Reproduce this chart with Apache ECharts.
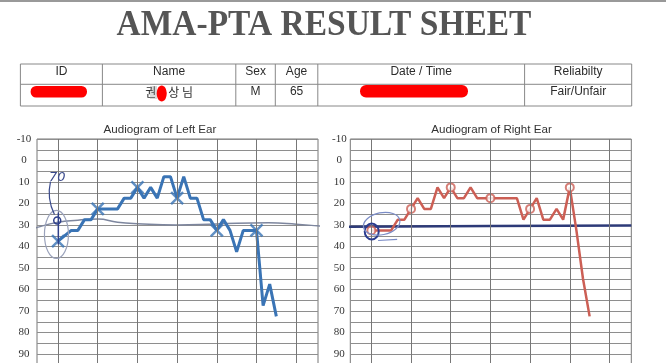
<!DOCTYPE html>
<html><head><meta charset="utf-8">
<script src="https://cdn.jsdelivr.net/npm/echarts@6/dist/echarts.min.js"></script>
<style>html,body{margin:0;padding:0;background:#fff}#c{width:666px;height:363px}</style>
</head><body><div id="c"></div>
<script>
// ---- data (x = octaves above 250 Hz, y = hearing level dB) ----
const leftOctave = [0, 0.333, 0.5, 0.667, 0.833, 1, 1.5, 1.667, 1.833, 2, 2.167, 2.333, 2.5, 2.667, 2.833, 3, 3.167, 3.333, 3.5, 3.667, 3.833, 4, 4.167, 4.333, 4.5, 4.667, 4.833, 5, 5.167, 5.333, 5.5];
const leftDb     = [37.5, 32.5, 32.5, 27.5, 27.5, 22.5, 22.5, 17.5, 17.5, 12.5, 17.5, 12.5, 17.5, 7.5, 7.5, 17.5, 7.5, 17.5, 17.5, 27.5, 27.5, 32.5, 27.5, 32.5, 42.5, 32.5, 32.5, 32.5, 67.5, 57.5, 72.5];
const rightOctave = [0, 0.5, 0.667, 0.833, 1, 1.167, 1.333, 1.5, 1.667, 1.833, 2, 2.167, 2.333, 2.5, 2.667, 3, 3.667, 3.833, 4, 4.167, 4.333, 4.5, 4.667, 4.833, 5, 5.167, 5.333, 5.5];
const rightDb     = [32.5, 32.5, 27.5, 27.5, 22.5, 17.5, 22.5, 22.5, 12.5, 17.5, 12.5, 17.5, 17.5, 12.5, 17.5, 17.5, 17.5, 27.5, 22.5, 17.5, 27.5, 27.5, 22.5, 27.5, 12.5, 32.5, 55, 72.5];
const markerOctave = [0, 1, 2, 3, 4, 5];
const octaveLines = [0, 1, 2, 3, 4, 5, 6];
const yLabels = [-10, 0, 10, 20, 30, 40, 50, 60, 70, 80, 90];
// hand-drawn reference lines
const leftRefOctave = [-0.78, -0.5, 0, 0.5, 1, 1.5, 2, 3, 4, 5.3, 6, 6.6, 6.94];
const leftRefDb     = [33, 31, 28.7, 27.8, 27.2, 28.7, 29.4, 30, 29.5, 29, 29.6, 30.5, 30.8];
const rightRefOctave = [-0.96, 3, 6.55];
const rightRefDb     = [30.8, 30.5, 30.2];
// texts
const sheetTitle = 'AMA-PTA RESULT SHEET';
const chartTitles = ['Audiogram of Left Ear', 'Audiogram of Right Ear'];
const tableHeaders = ['ID', 'Name', 'Sex', 'Age', 'Date / Time', 'Reliabilty'];
const tableValues  = ['', '권\u3000상 님', 'M', '65', '', 'Fair/Unfair'];

const zip = (a, b) => a.map((v, i) => [v, b[i]]);
const marks = (oct, db) => markerOctave.map(o => [o, db[oct.indexOf(o)]]);

const chart = echarts.init(document.getElementById('c'), null, {renderer: 'canvas'});

function xAxisCfg(gi) { return {gridIndex: gi, type: 'value', min: -0.53, max: 6.55, show: false}; }
function yAxisCfg(gi, margin) {
  return {gridIndex: gi, type: 'value', inverse: true, min: -10, max: 100, interval: 5,
    axisLine: {show: false}, axisTick: {show: false},
    axisLabel: {margin: margin, align: 'center', fontFamily: 'Liberation Serif', fontSize: 11, color: '#333',
      formatter: v => yLabels.includes(v) ? String(v) : ''},
    splitLine: {show: true, lineStyle: {color: '#8e8e8e', width: 1}}};
}
const vLines = {silent: true, symbol: ['none', 'none'], label: {show: false}, animation: false,
  lineStyle: {color: '#777', width: 1, type: 'solid'}, emphasis: {disabled: true},
  data: octaveLines.map(v => ({xAxis: v}))};
const xPath = 'path://M0 0L10 10M10 0L0 10';

chart.setOption({
  animation: false,
  backgroundColor: '#ffffff',
  grid: [
    {left: 37, top: 139, width: 281, height: 236.5, show: true, borderColor: '#777', borderWidth: 1, containLabel: false, outerBoundsMode: 'none'},
    {left: 350.3, top: 139, width: 281, height: 236.5, show: true, borderColor: '#777', borderWidth: 1, containLabel: false, outerBoundsMode: 'none'}
  ],
  xAxis: [xAxisCfg(0), xAxisCfg(1)],
  yAxis: [yAxisCfg(0, 13), yAxisCfg(1, 11)],
  series: [
    {type: 'line', xAxisIndex: 0, yAxisIndex: 0, data: [], markLine: vLines, z: 1},
    {type: 'line', xAxisIndex: 1, yAxisIndex: 1, data: [], markLine: vLines, z: 1},
    {type: 'line', xAxisIndex: 0, yAxisIndex: 0, data: zip(leftRefOctave, leftRefDb), smooth: true, clip: false,
      showSymbol: false, lineStyle: {color: '#7d869e', width: 1.5}, z: 2, silent: true},
    {type: 'line', xAxisIndex: 1, yAxisIndex: 1, data: zip(rightRefOctave, rightRefDb), clip: false,
      showSymbol: false, lineStyle: {color: '#2d3a78', width: 2.5}, z: 2, silent: true},
    {type: 'line', xAxisIndex: 0, yAxisIndex: 0, data: zip(leftOctave, leftDb), showSymbol: false,
      lineStyle: {color: '#3a74b5', width: 3}, z: 3},
    {type: 'line', xAxisIndex: 1, yAxisIndex: 1, data: zip(rightOctave, rightDb), showSymbol: false,
      lineStyle: {color: '#cc5f55', width: 2.5}, z: 3},
    {type: 'scatter', xAxisIndex: 0, yAxisIndex: 0, data: marks(leftOctave, leftDb), symbol: xPath,
      symbolSize: [12, 12], itemStyle: {color: 'none', borderColor: '#3a74b5', borderWidth: 2.5}, z: 4},
    {type: 'scatter', xAxisIndex: 1, yAxisIndex: 1, data: marks(rightOctave, rightDb), symbol: 'circle',
      symbolSize: 8, itemStyle: {color: '#fff', borderColor: '#cc5f55', borderWidth: 2}, z: 4}
  ]
});

// ---- sheet decorations (table, titles, hand annotations) ----
const colX = [20.4, 102.4, 235.8, 275.3, 317.8, 524.6, 631.7];
const rowY = [64, 84.3, 106];
const g = [];
g.push({type: 'line', shape: {x1: 0, y1: 1, x2: 666, y2: 1}, style: {stroke: '#999', lineWidth: 2}});
g.push({type: 'text', x: 324, y: 25.5, scaleX: 0.93,
  style: {text: sheetTitle, x: 0, y: 0, fontFamily: 'Liberation Serif', fontWeight: 'bold', fontSize: 36,
    fill: '#555', align: 'center', verticalAlign: 'middle'}});
g.push({type: 'rect', shape: {x: colX[0], y: rowY[0], width: colX[6] - colX[0], height: rowY[2] - rowY[0]},
  style: {fill: 'none', stroke: '#888', lineWidth: 1}});
g.push({type: 'line', shape: {x1: colX[0], y1: rowY[1], x2: colX[6], y2: rowY[1]}, style: {stroke: '#888', lineWidth: 1}});
for (let i = 1; i < 6; i++) g.push({type: 'line', shape: {x1: colX[i], y1: rowY[0], x2: colX[i], y2: rowY[2]}, style: {stroke: '#888', lineWidth: 1}});
tableHeaders.forEach((t, i) => g.push({type: 'text', x: (colX[i] + colX[i + 1]) / 2, y: 71.8,
  style: {text: t, fontFamily: 'Liberation Sans', fontSize: 12, fill: '#2c2c2c', align: 'center', verticalAlign: 'middle'}}));
tableValues.forEach((t, i) => { if (t) g.push({type: 'text', x: (colX[i] + colX[i + 1]) / 2, y: 92,
  style: {text: t, fontFamily: i === 1 ? 'Noto Sans CJK KR' : 'Liberation Sans', fontSize: 12, fill: '#2c2c2c', align: 'center', verticalAlign: 'middle'}}); });
// redactions
g.push({type: 'rect', shape: {x: 150, y: 86, width: 7, height: 13}, style: {fill: 'rgba(150,150,150,0.35)'}});
g.push({type: 'ellipse', shape: {cx: 161.7, cy: 93.5, rx: 5, ry: 8}, style: {fill: '#f00'}});
g.push({type: 'rect', shape: {x: 30.6, y: 86, width: 56.4, height: 11.5, r: 5.5}, style: {fill: '#f00'}});
g.push({type: 'rect', shape: {x: 360, y: 85, width: 108, height: 12.5, r: 6}, style: {fill: '#f00'}});
// chart titles
chartTitles.forEach((t, i) => g.push({type: 'text', x: i === 0 ? 160 : 491.5, y: 129.5,
  style: {text: t, fontFamily: 'Liberation Sans', fontSize: 11.6, fill: '#333', align: 'center', verticalAlign: 'middle'}}));
// hand annotations placed from data coordinates
const pL = (o, d) => chart.convertToPixel({gridIndex: 0}, [o, d]);
const pR = (o, d) => chart.convertToPixel({gridIndex: 1}, [o, d]);
let c = pL(-0.04, 34.4);
g.push({type: 'ellipse', shape: {cx: c[0], cy: c[1], rx: 12, ry: 24}, style: {fill: 'none', stroke: '#9aa2bb', lineWidth: 1.2}, z: 10});
c = pL(-0.02, 27.9);
g.push({type: 'circle', shape: {cx: c[0], cy: c[1], r: 3.5}, style: {fill: 'none', stroke: '#2e3f8a', lineWidth: 1.5}, z: 10});
let a = pL(0.0075, 24.2), b = pL(0.0075, 39);
g.push({type: 'line', shape: {x1: a[0], y1: a[1], x2: b[0], y2: b[1]}, style: {stroke: '#2e3f8a', lineWidth: 1.5}, z: 10});
a = pL(-0.09, 25.1); b = pL(-0.19, 9.8); let k = pL(-0.29, 17.7);
g.push({type: 'bezierCurve', shape: {x1: a[0], y1: a[1], x2: b[0], y2: b[1], cpx1: k[0], cpy1: k[1]}, style: {stroke: '#3a4a8c', lineWidth: 1.2, fill: 'none'}, z: 10});
c = pL(-0.02, 8.1);
g.push({type: 'text', x: c[0], y: c[1], style: {text: '70', fontFamily: 'DejaVu Sans', fontStyle: 'italic', fontSize: 13, fill: '#3a4a8c', align: 'center', verticalAlign: 'middle'}, z: 10});
c = pR(0.01, 33);
g.push({type: 'ellipse', shape: {cx: c[0], cy: c[1], rx: 7, ry: 8}, style: {fill: 'none', stroke: '#2b3c8f', lineWidth: 2}, z: 10});
c = pR(0.26, 29.4);
g.push({type: 'ellipse', x: c[0], y: c[1], rotation: 0.2, shape: {cx: 0, cy: 0, rx: 18.5, ry: 11}, style: {fill: 'none', stroke: '#7b8cc6', lineWidth: 1.2}, z: 10});
a = pR(0.17, 37.2); b = pR(0.65, 36.7);
g.push({type: 'line', shape: {x1: a[0], y1: a[1], x2: b[0], y2: b[1]}, style: {stroke: '#7b8cc6', lineWidth: 1.2}, z: 10});
chart.setOption({graphic: {elements: g}});
</script>
</body></html>
